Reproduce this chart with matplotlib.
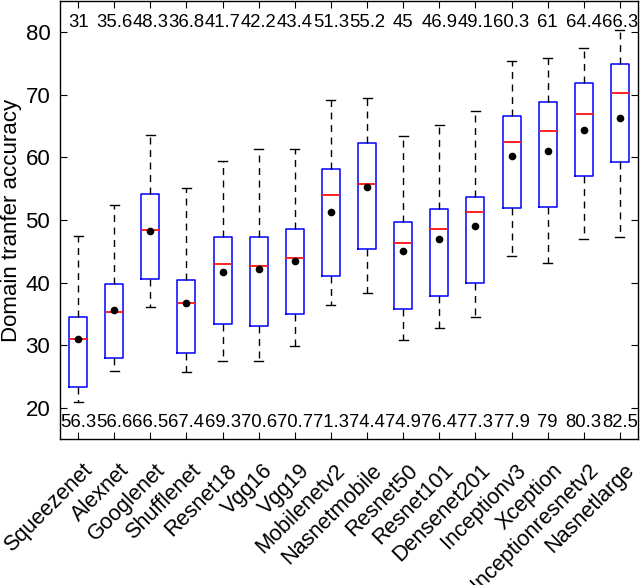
import matplotlib
matplotlib.use("Agg")
import matplotlib.pyplot as plt
from matplotlib.transforms import ScaledTranslation

models = ["Squeezenet", "Alexnet", "Googlenet", "Shufflenet", "Resnet18", "Vgg16",
          "Vgg19", "Mobilenetv2", "Nasnetmobile", "Resnet50", "Resnet101",
          "Densenet201", "Inceptionv3", "Xception", "Inceptionresnetv2", "Nasnetlarge"]

whisker_low = [20.9, 25.9, 36.1, 25.7, 27.5, 27.5, 29.8, 36.4, 38.3, 30.9, 32.7, 34.5, 44.3, 43.2, 46.9, 47.3]
q1 =          [23.3, 28.0, 40.5, 28.7, 33.4, 33.0, 34.9, 41.1, 45.3, 35.8, 37.8, 39.9, 51.9, 52.1, 57.1, 59.2]
medians =     [31.0, 35.3, 48.4, 36.8, 42.9, 42.7, 43.9, 54.0, 55.8, 46.3, 48.5, 51.2, 62.5, 64.2, 67.0, 70.3]
q3 =          [34.5, 39.8, 54.1, 40.4, 47.3, 47.3, 48.6, 58.2, 62.3, 49.7, 51.7, 53.6, 66.7, 68.9, 71.9, 75.0]
whisker_high = [47.5, 52.4, 63.6, 55.1, 59.5, 61.4, 61.4, 69.1, 69.5, 63.5, 65.2, 67.4, 75.4, 75.9, 77.5, 80.3]
means = [31, 35.6, 48.3, 36.8, 41.7, 42.2, 43.4, 51.3, 55.2, 45, 46.9, 49.1, 60.3, 61, 64.4, 66.3]
bottom_values = [56.3, 56.6, 66.5, 67.4, 69.3, 70.6, 70.7, 71.3, 74.4, 74.9, 76.4, 77.3, 77.9, 79, 80.3, 82.5]
yticks = [20, 30, 40, 50, 60, 70, 80]

plt.rcParams['font.family'] = ['Liberation Sans', 'DejaVu Sans']

fig = plt.figure(figsize=(6.4, 5.85), dpi=100)
ax = fig.add_axes([60 / 640, 1 - 439 / 585, 578 / 640, 438 / 585])

stats = []
for i in range(len(models)):
    stats.append(dict(label=models[i], whislo=whisker_low[i], q1=q1[i], med=medians[i],
                      q3=q3[i], whishi=whisker_high[i], mean=means[i], fliers=[]))

positions = list(range(1, len(models) + 1))
ax.bxp(stats, positions=positions, widths=0.5, showmeans=True, showfliers=False,
       capwidths=0.25,
       boxprops=dict(color='#0000ff', linewidth=1.1),
       medianprops=dict(color='#ff2020', linewidth=1.4),
       whiskerprops=dict(color='black', linewidth=1.0, linestyle=(0, (5, 4))),
       capprops=dict(color='black', linewidth=1.0),
       meanprops=dict(marker='o', markerfacecolor='black', markeredgecolor='black',
                      markersize=4.5))

for x, m, b in zip(positions, means, bottom_values):
    ax.text(x, 81.6, f"{m:g}", ha='center', va='center', fontsize=13.3)
    ax.text(x, 17.6, f"{b:g}", ha='center', va='center', fontsize=13.3)

ax.set_xlim(0.5, 16.5)
ax.set_ylim(15, 85)
ax.set_yticks(yticks)
ax.set_yticklabels([str(t) for t in yticks], fontsize=16)
ax.set_xticks(positions)
ax.set_xticklabels([])
ax.tick_params(axis='both', direction='in', length=5, width=0.8, top=True, right=True)
ax.tick_params(axis='y', pad=7)

# rotated category labels, anchored just below each tick
label_trans = ax.get_xaxis_transform() + ScaledTranslation(4 / 100, -21 / 100, fig.dpi_scale_trans)
for x, name in zip(positions, models):
    ax.text(x, 0, name, transform=label_trans, rotation=45, ha='right', va='top',
            rotation_mode='anchor', fontsize=15.6, clip_on=False)

ax.set_ylabel("Domain tranfer accuracy", fontsize=16)
ax.yaxis.set_label_coords(-0.065, 0.5)
for s in ax.spines.values():
    s.set_linewidth(1.0)
    s.set_color('black')

fig.savefig("out.png", dpi=100)
